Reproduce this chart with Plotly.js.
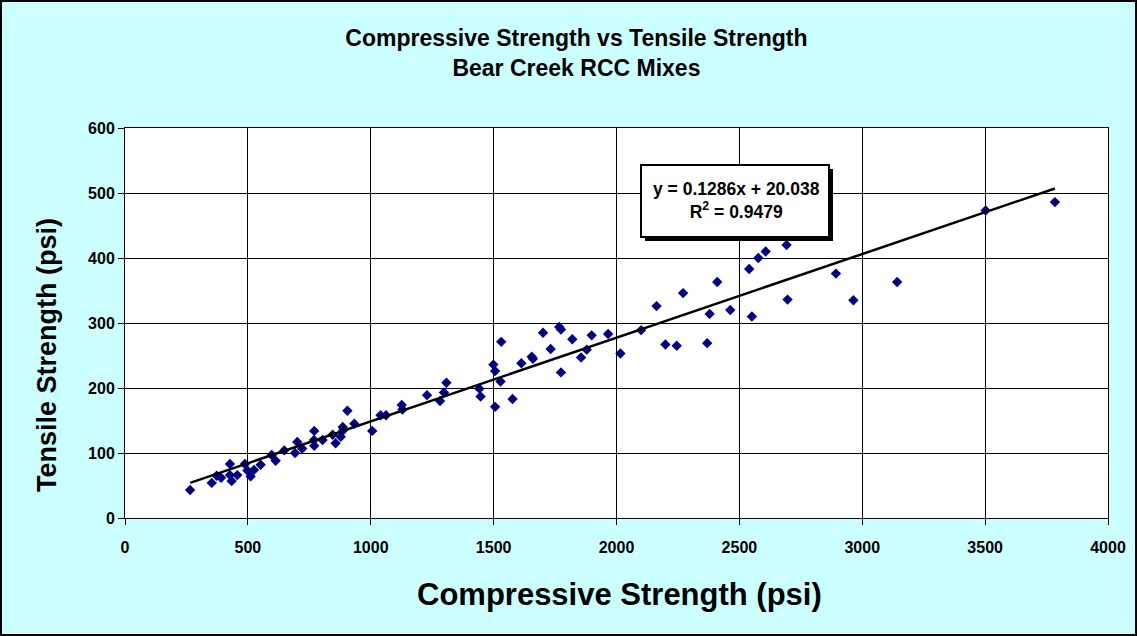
<!DOCTYPE html>
<html>
<head>
<meta charset="utf-8">
<script src="https://cdn.plot.ly/plotly-3.0.1.min.js"></script>
<style>
html,body{margin:0;padding:0;background:#fff;}
#chart{width:1133px;height:632px;border:2px solid #000;}
</style>
</head>
<body>
<div id="chart"></div>
<script>
// Compressive strength (psi)
var compressive = [265,353,373,391,427,427,434,457,488,498,511,525,552,597,613,648,692,701,721,770,770,769,804,845,857,878,886,888,905,933,1006,1040,1062,1126,1129,1229,1282,1298,1308,1442,1447,1499,1506,1506,1528,1531,1577,1613,1655,1660,1701,1732,1767,1774,1774,1820,1856,1879,1899,1966,2016,2100,2163,2199,2245,2271,2369,2379,2410,2463,2540,2551,2577,2607,2692,2696,2893,2964,3142,3502,3784];
// Tensile strength (psi)
var tensile = [43,54,65,62,83,66,57,66,83,73,64,74,82,97,88,104,100,117,107,134,111,120,120,128,115,125,140,135,165,145,134,158,158,174,167,189,180,193,208,199,187,236,226,171,210,271,183,238,248,245,285,260,294,290,224,275,247,259,281,283,253,289,326,267,265,346,269,314,363,320,383,310,400,410,420,336,376,335,363,473,486];
// Linear trendline endpoints (y = 0.1286x + 20.038)
var trendX = [265, 3784];
var trendY = [54, 507];
var xTicks = [0,500,1000,1500,2000,2500,3000,3500,4000];
var yTicks = [0,100,200,300,400,500,600];
var equationText = 'y = 0.1286x + 20.038<br>R<sup>2</sup> = 0.9479';

var W = 983, H = 390; // plot area size in px
function px(x){return (x-125)/W;}
function py(y){return (518-y)/H;}

var traces = [
  {x: compressive, y: tensile, mode: 'markers', type: 'scatter',
   marker: {symbol: 'diamond', size: 8, color: '#000080'}, hoverinfo: 'x+y'},
  {x: trendX, y: trendY, mode: 'lines', type: 'scatter',
   line: {color: '#000', width: 2.5}, hoverinfo: 'skip'}
];

var fontFam = 'Arial, "Liberation Sans", sans-serif';
var layout = {
  width: 1133, height: 632,
  margin: {l: 123, r: 27, t: 126, b: 116},
  paper_bgcolor: '#CCFFFF',
  plot_bgcolor: '#FFFFFF',
  showlegend: false,
  font: {family: fontFam, color: '#000'},
  title: {
    text: '<b>Compressive Strength vs Tensile Strength<br>Bear Creek RCC Mixes</b>',
    font: {family: fontFam, size: 23, color: '#000'},
    xref: 'container', x: 0.507, xanchor: 'center',
    yref: 'container', y: 0.93, yanchor: 'top'
  },
  xaxis: {
    range: [0, 4000], tickvals: xTicks, ticktext: xTicks.map(String),
    showgrid: true, gridcolor: '#000', gridwidth: 1,
    zeroline: false, showline: true, linecolor: '#000', linewidth: 1, mirror: true,
    ticks: 'outside', ticklen: 6, tickcolor: '#000', ticklabelstandoff: 9,
    tickfont: {family: fontFam, size: 16, color: '#000', weight: 'bold'},
    fixedrange: true
  },
  yaxis: {
    range: [0, 600], tickvals: yTicks, ticktext: yTicks.map(String),
    showgrid: true, gridcolor: '#000', gridwidth: 1,
    zeroline: false, showline: true, linecolor: '#000', linewidth: 1, mirror: true,
    ticks: 'outside', ticklen: 6, tickcolor: '#000',
    tickfont: {family: fontFam, size: 16, color: '#000', weight: 'bold'},
    fixedrange: true
  },
  shapes: [
    {type: 'rect', xref: 'paper', yref: 'paper', x0: px(645), x1: px(833), y0: py(169), y1: py(241),
     fillcolor: '#000', line: {width: 0}, layer: 'above'},
    {type: 'rect', xref: 'paper', yref: 'paper', x0: px(641), x1: px(829), y0: py(165), y1: py(237),
     fillcolor: '#FFF', line: {color: '#000', width: 2}, layer: 'above'}
  ],
  annotations: [
    {text: '<b>' + equationText + '</b>', xref: 'paper', yref: 'paper',
     x: px(736), y: py(200), xanchor: 'center', yanchor: 'middle', showarrow: false,
     font: {family: fontFam, size: 17.5, color: '#000'}},
    {text: '<b>Compressive Strength (psi)</b>', xref: 'paper', yref: 'paper',
     x: px(619.5), y: py(594), xanchor: 'center', yanchor: 'middle', showarrow: false,
     font: {family: fontFam, size: 31, color: '#000'}},
    {text: '<b>Tensile Strength (psi)</b>', xref: 'paper', yref: 'paper',
     x: px(47), y: py(355), xanchor: 'center', yanchor: 'middle', showarrow: false, textangle: -90,
     font: {family: fontFam, size: 27, color: '#000'}}
  ]
};

Plotly.newPlot('chart', traces, layout, {displayModeBar: false});
</script>
</body>
</html>
